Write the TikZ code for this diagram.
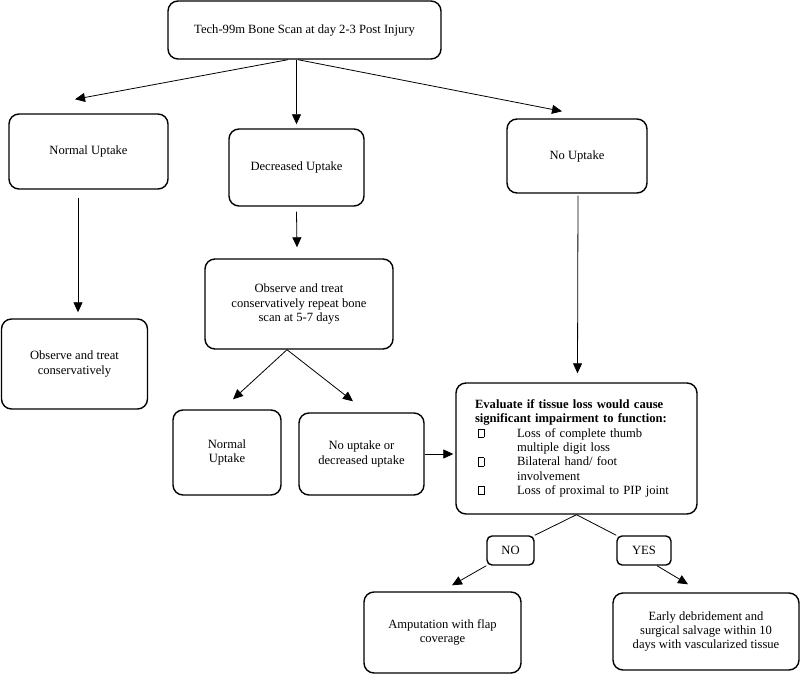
\documentclass[tikz,border=0pt]{standalone}
\usepackage{fontspec}
\setmainfont{Liberation Serif}
\usetikzlibrary{arrows.meta}

\newlength\itemind
\setlength\itemind{42pt}
\newcommand\chkbox{\makebox[\itemind][l]{\hspace{3pt}{\setlength\fboxsep{0pt}\setlength\fboxrule{0.4pt}\fbox{\rule{0pt}{8pt}\hspace{5.5pt}}}}}

\tikzset{
  box/.style={draw, line width=1.4pt, rounded corners=10pt, align=center, inner sep=2pt,
    font=\fontsize{12.6}{14.3}\selectfont},
  tag/.style={box, rounded corners=5pt},
  arr/.style={line width=0.8pt, -{Triangle[length=10pt,width=9pt]}},
  lnk/.style={line width=0.8pt}
}

\begin{document}
\begin{tikzpicture}[x=1pt,y=-1pt]
	\useasboundingbox (0,0) rectangle (800,674);
	\node[box, minimum width=273, minimum height=58] (scan) at (304.5,30) {Tech-99m Bone Scan at day 2-3 Post Injury};
	\node[box, minimum width=159, minimum height=75] (normal) at (88.5,151.5) {Normal Uptake};
	\node[box, minimum width=135, minimum height=77] (decr) at (296.5,167.5) {Decreased Uptake};
	\node[box, minimum width=140, minimum height=74] (none) at (577,156) {No Uptake};
	\node[box, minimum width=146, minimum height=90] (obs1) at (74.5,364) {Observe and treat\\conservatively};
	\node[box, minimum width=188, minimum height=90] (obs2) at (299,304) {Observe and treat\\conservatively repeat bone\\scan at 5-7 days};
	\node[box, minimum width=108, minimum height=85] (norm2) at (227,452.5) {Normal\\Uptake};
	\node[box, minimum width=125, minimum height=82] (noup) at (361.5,454) {No uptake or\\decreased uptake};
	\node[box, align=left, text width=203pt, inner xsep=19pt, minimum height=131] (eval) at (576.5,448.5) {%
		\textbf{Evaluate if tissue loss would cause}\\
		\textbf{significant impairment to function:}\\
		\chkbox Loss of complete thumb\\
		\hspace*{\itemind}multiple digit loss\\
		\chkbox Bilateral hand/ foot\\
		\hspace*{\itemind}involvement\\
		\chkbox Loss of proximal to PIP joint};
	\node[tag, minimum width=47, minimum height=29] (no) at (510.5,550.5) {NO};
	\node[tag, minimum width=54, minimum height=29] (yes) at (644,550.5) {YES};
	\node[box, minimum width=157, minimum height=81] (amp) at (442.5,632.5) {Amputation with flap\\coverage};
	\node[box, minimum width=186, minimum height=77] (early) at (706,631.5) {Early debridement and\\surgical salvage within 10\\days with vascularized tissue};

	\draw[arr] ([xshift=-16.5pt]scan.south) -- ([xshift=-13.5pt,yshift=14pt]normal.north);
	\draw[arr] ([xshift=-8pt]scan.south) -- ([yshift=4pt]decr.north);
	\draw[arr] ([xshift=-6.5pt]scan.south) -- ([xshift=-15pt,yshift=7pt]none.north);
	\draw[arr] ([xshift=-10.5pt,yshift=-8pt]normal.south) -- ([xshift=3.5pt,yshift=6pt]obs1.north);
	\draw[arr] ([yshift=-5pt]decr.south) -- ([xshift=-2pt,yshift=11pt]obs2.north);
	\draw[arr] ([xshift=-12pt]obs2.south) -- ([xshift=6pt,yshift=10pt]norm2.north);
	\draw[arr] ([xshift=-12pt]obs2.south) -- ([xshift=-8.5pt,yshift=11pt]noup.north);
	\draw[arr, shorten >=2pt] (noup.east) -- (noup.east -| eval.west);
	\draw[arr] ([xshift=1pt,yshift=-2pt]none.south) -- ([xshift=1pt,yshift=9pt]eval.north);
	\draw[lnk] (eval.south) -- (no.north east);
	\draw[lnk] (eval.south) -- (yes.north west);
	\draw[arr] (no.south west) -- ([xshift=9.5pt,yshift=6pt]amp.north);
	\draw[arr] ([xshift=13pt]yes.south) -- ([xshift=-18pt,yshift=8pt]early.north);
\end{tikzpicture}
\end{document}
